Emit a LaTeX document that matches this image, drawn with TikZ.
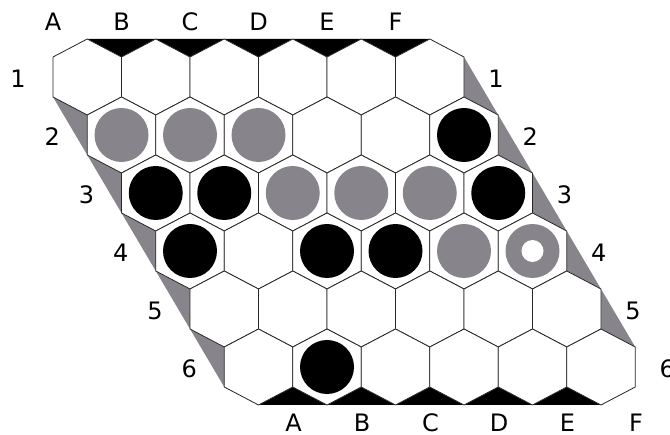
\documentclass[tikz,border=0pt]{standalone}
\usepackage{fontspec}
\setmainfont{DejaVu Sans}
\usetikzlibrary{calc}
\definecolor{stonegray}{RGB}{135,133,139}

\begin{document}
\begin{tikzpicture}[x=1pt, y=-1pt,
  cell/.style={draw=black!85, line width=0.8pt, fill=white},
  edgeblk/.style={fill=black},
  edgegry/.style={fill=stonegray},
  stone/.style={circle, minimum size=54pt, inner sep=0pt},
  blk/.style={stone, fill=black},
  gry/.style={stone, fill=stonegray},
  hole/.style={circle, minimum size=22pt, inner sep=0pt, fill=white},
  lbl/.style={font=\fontsize{24}{24}\selectfont, inner sep=0pt}
]
\useasboundingbox (0,0) rectangle (670,435);

% ======= Black edges (top / bottom) =======
\foreach \c in {0,...,4} {
  \pgfmathsetmacro\tx{87.25+68.5*\c}
  \pgfmathsetmacro\bx{258.5+68.5*\c}
  \fill[edgeblk] (\tx,39) -- (\tx+68.5,39) -- (\tx+34.25,57) -- cycle;
  \fill[edgeblk] (\bx,405) -- (\bx+68.5,405) -- (\bx+34.25,387) -- cycle;
}

% ======= Gray edges (left / right) =======
\foreach \r in {0,...,4} {
  \pgfmathsetmacro\lx{53+34.25*\r}
  \pgfmathsetmacro\rx{464+34.25*\r}
  \pgfmathsetmacro\cy{77+58*\r}
  \fill[edgegry] (\lx,\cy+20) -- (\lx+34.25,\cy+38) -- (\lx+34.25,\cy+78) -- cycle;
  \fill[edgegry] (\rx,\cy-20) -- (\rx,\cy+20) -- (\rx+34.25,\cy+38) -- cycle;
}

% ======= Cells =======
\foreach \r in {1,...,6}
  \foreach \c/\col in {0/A,1/B,2/C,3/D,4/E,5/F} {
    \pgfmathsetmacro\cx{87.25+68.5*\c+34.25*(\r-1)}
    \pgfmathsetmacro\cy{77+58*(\r-1)}
    \coordinate (\col\r) at (\cx,\cy);
    \draw[cell] (\cx,\cy-38) -- (\cx+34.25,\cy-20) -- (\cx+34.25,\cy+20)
      -- (\cx,\cy+38) -- (\cx-34.25,\cy+20) -- (\cx-34.25,\cy-20) -- cycle;
  }

% ======= Stones =======
\foreach \p in {A2,B2,C2,C3,D3,E3,E4}
  \node[gry] (s\p) at (\p) {};
\foreach \p in {F2,A3,B3,F3,A4,C4,D4,B6}
  \node[blk] (s\p) at (\p) {};
\node[gry] (sF4) at (F4) {};
\node[hole] (hF4) at (sF4) {};

% ======= Labels =======
\foreach \c/\col in {0/A,1/B,2/C,3/D,4/E,5/F} {
  \node[lbl] (top\col) at (53+68.5*\c,22) {\col};
  \node[lbl] (bot\col) at (293.5+68.5*\c,423) {\col};
}
\foreach \r in {1,...,6} {
  \node[lbl] (left\r) at (18+34.25*\r-34.25,79+58*\r-58) {\r};
  \node[lbl] (right\r) at (496+34.25*\r-34.25,79+58*\r-58) {\r};
}

\end{tikzpicture}
\end{document}
